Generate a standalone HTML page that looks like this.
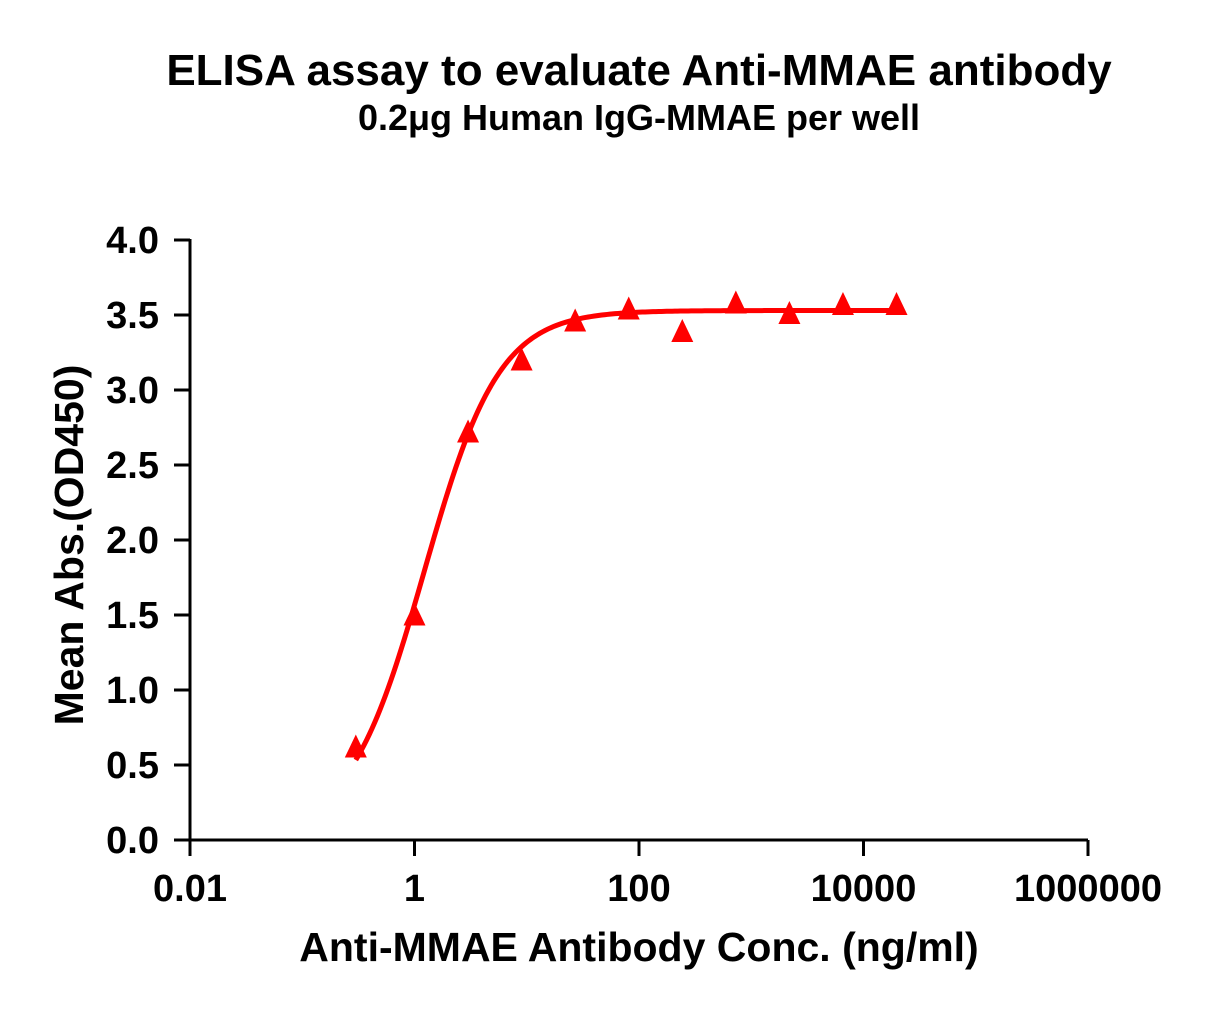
<!DOCTYPE html>
<html><head><meta charset="utf-8"><style>
body{margin:0;background:#fff;}
svg text{font-family:"Liberation Sans",Arial,sans-serif;font-weight:bold;fill:#000;}
</style></head><body>
<svg width="1217" height="1012" xmlns="http://www.w3.org/2000/svg">
<text x="639" y="85" font-size="44" text-anchor="middle">ELISA assay to evaluate Anti-MMAE antibody</text>
<text x="639" y="130" font-size="36" text-anchor="middle">0.2μg Human IgG-MMAE per well</text>
<g id="axes"></g>
<g id="plot"></g>
<text x="0" y="0" font-size="41" text-anchor="middle" transform="translate(83,545) rotate(-90)">Mean Abs.(OD450)</text>
<text x="639" y="961" font-size="41" text-anchor="middle">Anti-MMAE Antibody Conc. (ng/ml)</text>
</svg>
<script>
const concentrations=[0.3,1,3,9,27,81,243,729,2187,6561,19683];
const absorbance=[0.61,1.49,2.71,3.19,3.45,3.53,3.38,3.57,3.50,3.56,3.56];
const xTickValues=[0.01,1,100,10000,1000000];
const xTickLabels=["0.01","1","100","10000","1000000"];
const yTickValues=[0,0.5,1,1.5,2,2.5,3,3.5,4];
const yTickLabels=["0.0","0.5","1.0","1.5","2.0","2.5","3.0","3.5","4.0"];
const fitBottom=0.05, fitTop=3.53, fitEC50=1.22, fitHill=1.3;

const NS="http://www.w3.org/2000/svg";
const X0=190,X1=1088,Y0=840,Y1=240;
const xs=v=>X0+(Math.log10(v)+2)/8*(X1-X0);
const ys=v=>Y0-v/4*(Y0-Y1);
function mk(t,a,p){const e=document.createElementNS(NS,t);for(const k in a)e.setAttribute(k,a[k]);p.appendChild(e);return e;}
const axes=document.getElementById('axes'),plot=document.getElementById('plot');
let l=mk('line',{x1:X0,y1:Y0,x2:X1,y2:Y0,stroke:'#000','stroke-width':3},axes);


l=mk('line',{x1:X0,y1:Y0+1.5,x2:X0,y2:Y1-1,stroke:'#000','stroke-width':3},axes);


xTickValues.forEach((v,i)=>{
 const t=mk('line',{x1:xs(v),y1:Y0,x2:xs(v),y2:Y0+16,stroke:'#000','stroke-width':3},axes);
 
 
 const tx=mk('text',{x:xs(v),y:Y0+61,'font-size':38,'text-anchor':'middle'},axes);
 tx.textContent=xTickLabels[i];
 
 
});
yTickValues.forEach((v,i)=>{
 const t=mk('line',{x1:X0-16,y1:ys(v),x2:X0,y2:ys(v),stroke:'#000','stroke-width':3},axes);
 
 
 const tx=mk('text',{x:X0-31,y:ys(v)+13,'font-size':38,'text-anchor':'end'},axes);
 tx.textContent=yTickLabels[i];
 
 
});
let d='';const lo=Math.log10(concentrations[0]),hi=Math.log10(concentrations[concentrations.length-1]);
for(let i=0;i<=200;i++){const lx=lo+(hi-lo)*i/200,c=Math.pow(10,lx);
 const y=fitBottom+(fitTop-fitBottom)/(1+Math.pow(fitEC50/c,fitHill));
 d+=(i?'L':'M')+xs(c).toFixed(2)+','+ys(y).toFixed(2);}
const p=mk('path',{d:d,fill:'none',stroke:'#ff0000','stroke-width':5},plot);


concentrations.forEach((c,i)=>{
 const cx=xs(c),cy=ys(absorbance[i]);
 const tr=mk('polygon',{points:`${cx},${cy-14} ${cx-11},${cy+9} ${cx+11},${cy+9}`,fill:'#ff0000'},plot);
 
 
});
</script>
</body></html>
